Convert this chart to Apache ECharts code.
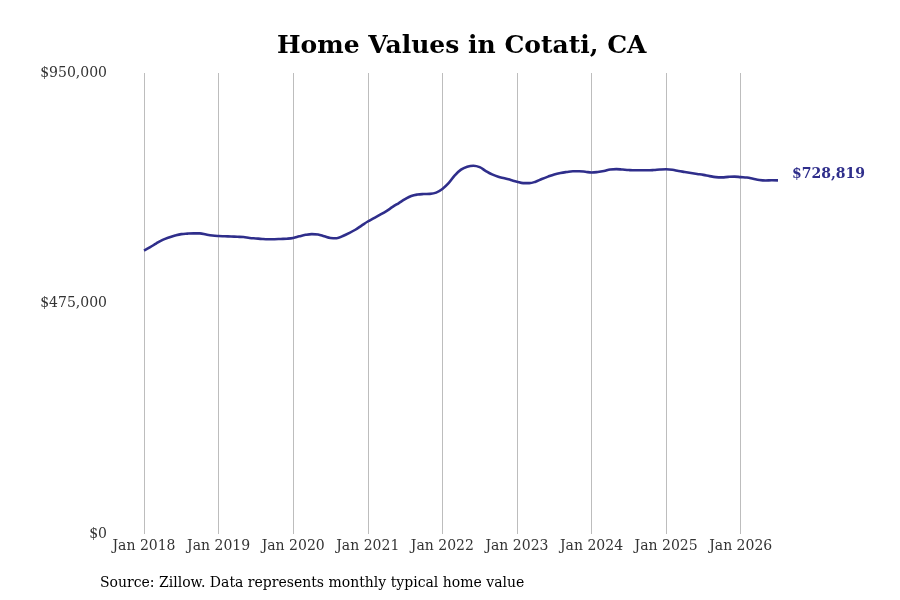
<!DOCTYPE html>
<html>
<head>
<meta charset="utf-8">
<title>Home Values in Cotati, CA</title>
<script src="https://cdn.jsdelivr.net/npm/echarts@6/dist/echarts.min.js"></script>
<style>
	html, body { margin: 0; padding: 0; background: #fff; }
	#chart { width: 900px; height: 600px; }
</style>
</head>
<body>
<div id="chart"></div>
<script>
// 月份 (2018-01 .. 2026-07)
var months = [];
for (var y = 2018; y <= 2026; y++) {
	for (var m = 1; m <= 12; m++) {
		if (y === 2026 && m > 7) break;
		months.push(y + '-' + (m < 10 ? '0' + m : m));
	}
}

// 每年的典型房价 (按月读取)
var values2018 = [584000, 591000, 599000, 606000, 611000, 615000, 618000, 619000, 619500, 619500, 617000, 615000];
var values2019 = [614000, 613500, 613000, 612500, 612000, 610000, 609000, 608000, 607500, 607500, 608000, 608500];
var values2020 = [610000, 613500, 616500, 618000, 617000, 613500, 610000, 609500, 614000, 620000, 627000, 635500];
var values2021 = [644000, 651000, 658000, 665500, 674000, 682000, 690000, 696500, 699500, 700600, 701000, 703500];
var values2022 = [711000, 723000, 739000, 751000, 757000, 759000, 756000, 748000, 741000, 736000, 733000, 729500];
var values2023 = [726000, 723000, 723000, 726000, 731500, 736500, 741000, 744000, 746000, 747500, 747500, 746500];
var values2024 = [745000, 746000, 748000, 751000, 752000, 751000, 750000, 749500, 749500, 749500, 750000, 751000];
var values2025 = [751500, 750500, 748000, 746000, 744000, 742000, 740000, 737500, 735500, 735000, 736000, 736500];
var values2026 = [735500, 734500, 732000, 729500, 728500, 729000, 728819];

var homeValues = [].concat(values2018, values2019, values2020, values2021, values2022,
	values2023, values2024, values2025, values2026);

var yTicks = [0, 475000, 950000];
var monthNames = ['Jan', 'Feb', 'Mar', 'Apr', 'May', 'Jun', 'Jul', 'Aug', 'Sep', 'Oct', 'Nov', 'Dec'];

function money(v) {
	return '$' + Math.round(v).toString().replace(/\B(?=(\d{3})+(?!\d))/g, ',');
}

function isJan(index) {
	return months[index].slice(5) === '01';
}

var chart = echarts.init(document.getElementById('chart'));

chart.setOption({
	backgroundColor: '#ffffff',
	animation: false,
	textStyle: { fontFamily: 'DejaVu Serif' },
	title: [{
		text: 'Home Values in Cotati, CA',
		left: 272,
		top: 29,
		textStyle: { fontFamily: 'DejaVu Serif', fontSize: 25, fontWeight: 'bold', color: '#000' }
	}, {
		text: 'Source: Zillow. Data represents monthly typical home value',
		left: 95,
		top: 571,
		textStyle: { fontFamily: 'DejaVu Serif', fontSize: 14, fontWeight: 'normal', color: '#000' }
	}],
	grid: { left: 144, right: 122, top: 73, bottom: 66 },
	xAxis: {
		type: 'category',
		data: months,
		boundaryGap: false,
		axisLine: { show: false },
		axisTick: { show: false },
		axisLabel: {
			interval: function(index) { return isJan(index); },
			formatter: function(v) {
				return monthNames[parseInt(v.slice(5), 10) - 1] + ' ' + v.slice(0, 4);
			},
			margin: 5,
			fontSize: 14,
			color: '#333'
		},
		splitLine: {
			show: true,
			interval: function(index) { return isJan(index); },
			lineStyle: { color: '#bdbdbd', width: 1 }
		}
	},
	yAxis: {
		type: 'value',
		min: yTicks[0],
		max: yTicks[yTicks.length - 1],
		interval: yTicks[1] - yTicks[0],
		axisLine: { show: false },
		axisTick: { show: false },
		splitLine: { show: false },
		axisLabel: {
			margin: 37,
			fontSize: 14,
			color: '#333',
			formatter: money
		}
	},
	series: [{
		type: 'line',
		data: homeValues,
		smooth: 0.4,
		showSymbol: false,
		lineStyle: { color: '#2f2e8b', width: 2.6 },
		itemStyle: { color: '#2f2e8b' },
		endLabel: {
			show: true,
			distance: 14,
			offset: [0, -6],
			formatter: function(p) { return money(p.value); },
			fontFamily: 'DejaVu Serif',
			fontSize: 14,
			fontWeight: 'bold',
			color: '#2f2e8b'
		}
	}]
});
</script>
</body>
</html>
